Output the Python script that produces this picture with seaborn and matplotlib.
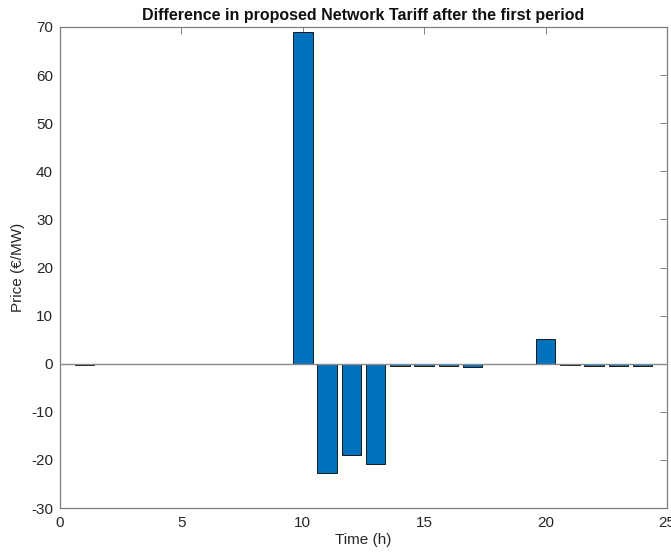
import numpy as np
import pandas as pd
import seaborn as sns
import matplotlib.pyplot as plt

# hourly tariff difference (EUR/MW)
hours = list(range(1, 25))
diff = [-0.25, 0, 0, 0, 0, 0, 0, 0, 0, 69.0,
        -22.7, -19.0, -20.9, -0.5, -0.5, -0.5, -0.7, 0, 0, 5.1,
        -0.25, -0.5, -0.5, -0.5]

x_ticks = [0, 5, 10, 15, 20, 25]
y_ticks = [-30, -20, -10, 0, 10, 20, 30, 40, 50, 60, 70]

sns.set_style("white")
plt.rcParams["font.family"] = ["Liberation Sans", "DejaVu Sans"]
plt.rcParams["axes.unicode_minus"] = False

df = pd.DataFrame({"hour": hours, "diff": diff})

fig = plt.figure(figsize=(6.71, 5.52), dpi=100)
ax = fig.add_axes([60 / 671, 44 / 552, 607 / 671, 481 / 552])

sns.barplot(data=df, x="hour", y="diff", native_scale=True, width=0.8,
            color="#0072BD", saturation=1, edgecolor="#1a1a1a",
            linewidth=0.7, ax=ax)

# baseline drawn over the bars, like matlab's bar baseline
ax.axhline(0, color="#8a8a8a", linewidth=1.0, zorder=5)

ax.set_xlim(0, 25)
ax.set_ylim(-30, 70)
ax.set_xticks(x_ticks)
ax.set_yticks(y_ticks)
ax.tick_params(direction="in", length=5, width=0.7, colors="#7f7f7f",
               labelcolor="#262626", labelsize=11, top=True, right=True)
ax.tick_params(axis="y", pad=5)
ax.tick_params(axis="x", pad=6)
for s in ax.spines.values():
    s.set_visible(True)
    s.set_color("#7f7f7f")
    s.set_linewidth(0.9)

ax.set_xlabel("Time (h)", fontsize=11, color="#262626", labelpad=2)
ax.set_ylabel("Price (€/MW)", fontsize=11, color="#262626", labelpad=4)
ax.set_title("Difference in proposed Network Tariff after the first period",
             fontsize=11.5, fontweight="bold", color="#111111", pad=5)

fig.savefig("out.png", dpi=100)
